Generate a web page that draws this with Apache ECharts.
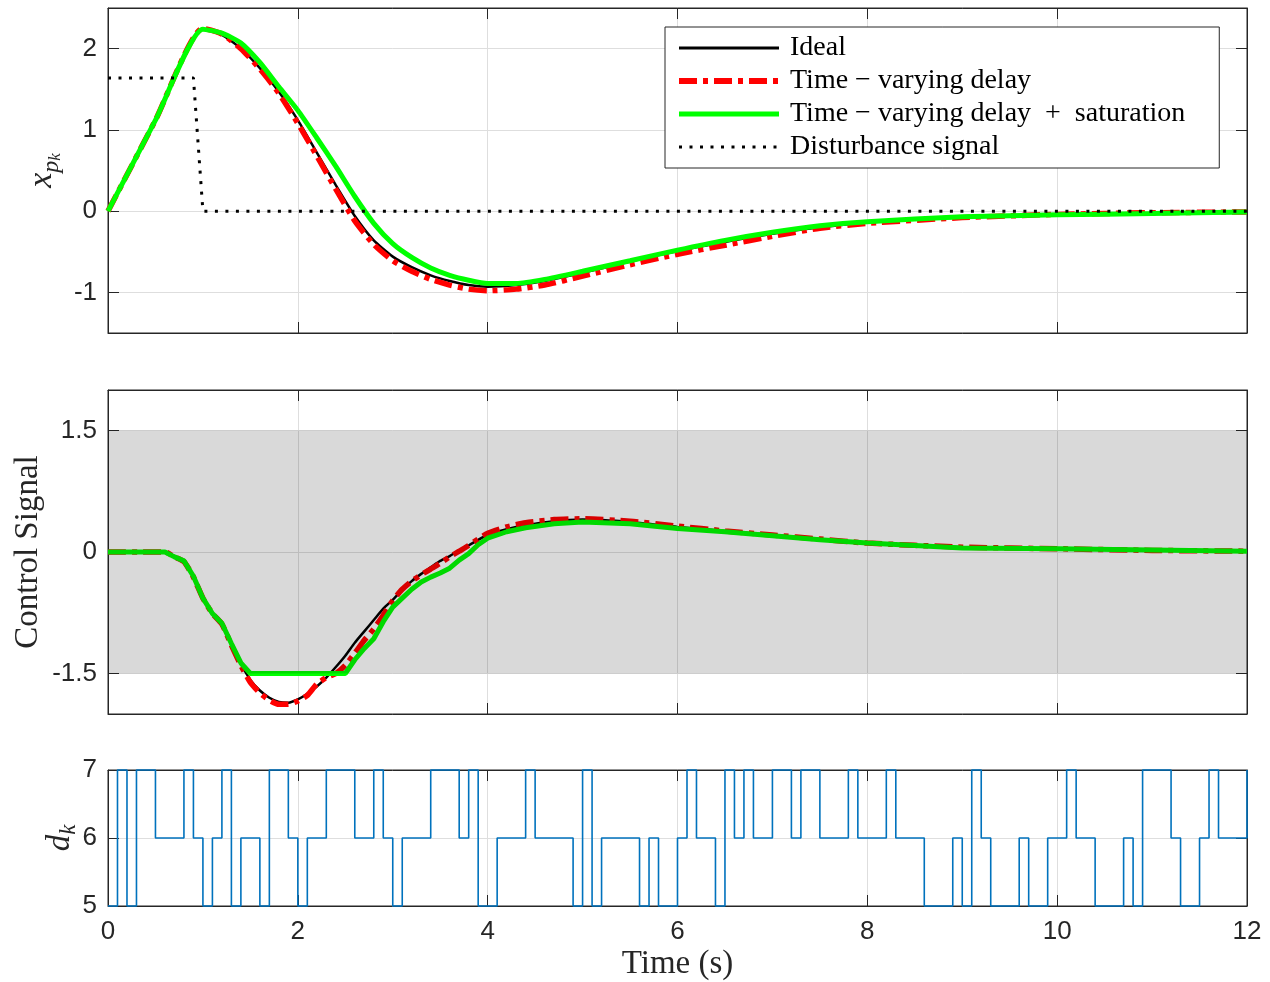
<!DOCTYPE html>
<html>
<head>
<meta charset="utf-8">
<script src="https://cdn.jsdelivr.net/npm/echarts@6/dist/echarts.min.js"></script>
<style>html,body{margin:0;padding:0;background:#fff}#chart{width:1270px;height:982px}</style>
</head>
<body>
<div id="chart"></div>
<script>
// ---------- data ----------
const legendNames = ['Ideal', 'Time \u2212 varying delay', 'Time \u2212 varying delay  +  saturation', 'Disturbance signal'];

// top panel: plant state x_pk
const tTop     = [0, 0.5, 1.0, 1.2, 1.4, 1.6, 1.8, 2.0, 2.2, 2.4, 2.6, 2.8, 3.0, 3.2, 3.4, 3.6, 3.8, 4.0, 4.3, 4.6, 5.0, 5.5, 6.0, 6.5, 7.0, 7.5, 8.0, 9.0, 10.0, 11.0, 12.0];
const idealTop = [0, 1.12, 2.24, 2.17, 2.00, 1.76, 1.47, 1.12, 0.72, 0.32, -0.06, -0.36, -0.56, -0.69, -0.79, -0.86, -0.91, -0.93, -0.91, -0.86, -0.76, -0.62, -0.49, -0.38, -0.28, -0.20, -0.14, -0.08, -0.05, -0.03, -0.02];
const delayTop = [0, 1.12, 2.25, 2.18, 2.00, 1.75, 1.45, 1.08, 0.68, 0.27, -0.12, -0.41, -0.61, -0.74, -0.84, -0.91, -0.96, -0.98, -0.96, -0.91, -0.80, -0.66, -0.53, -0.42, -0.31, -0.21, -0.15, -0.08, -0.04, -0.02, -0.01];
const satTop   = [0, 1.12, 2.24, 2.19, 2.07, 1.83, 1.53, 1.24, 0.90, 0.55, 0.18, -0.15, -0.40, -0.57, -0.70, -0.79, -0.85, -0.89, -0.89, -0.84, -0.74, -0.61, -0.48, -0.36, -0.26, -0.18, -0.13, -0.07, -0.045, -0.03, -0.01];
const distTime  = [0, 0.9, 1.0, 12];
const distValue = [1.64, 1.64, 0, 0];

// middle panel: control signal
const tMid     = [0, 0.5, 0.6, 0.7, 0.8, 0.9, 1.0, 1.1, 1.2, 1.3, 1.4, 1.5, 1.6, 1.7, 1.8, 1.9, 2.0, 2.1, 2.2, 2.3, 2.4, 2.5, 2.6, 2.7, 2.8, 2.9, 3.0, 3.1, 3.2, 3.3, 3.4, 3.5, 3.6, 3.7, 3.8, 3.9, 4.0, 4.2, 4.4, 4.7, 5.0, 5.5, 6.0, 6.5, 7.0, 7.5, 8.0, 9.0, 10.0, 11.0, 12.0];
const idealMid = [0, 0, 0, -0.05, -0.13, -0.31, -0.56, -0.75, -0.89, -1.14, -1.38, -1.58, -1.71, -1.80, -1.85, -1.86, -1.82, -1.75, -1.66, -1.55, -1.42, -1.28, -1.12, -0.98, -0.84, -0.70, -0.59, -0.47, -0.36, -0.27, -0.19, -0.11, -0.05, 0.02, 0.08, 0.15, 0.21, 0.28, 0.33, 0.38, 0.40, 0.37, 0.31, 0.26, 0.21, 0.16, 0.11, 0.06, 0.04, 0.02, 0.01];
const delayMid = [0, 0, 0, -0.06, -0.12, -0.31, -0.57, -0.76, -0.89, -1.15, -1.40, -1.61, -1.74, -1.83, -1.88, -1.88, -1.84, -1.77, -1.63, -1.55, -1.50, -1.40, -1.25, -1.09, -0.95, -0.78, -0.60, -0.46, -0.36, -0.28, -0.21, -0.14, -0.06, 0.01, 0.08, 0.16, 0.23, 0.31, 0.36, 0.40, 0.41, 0.38, 0.32, 0.26, 0.21, 0.16, 0.11, 0.06, 0.04, 0.02, 0.01];
const satMid   = [0, 0, 0, -0.06, -0.11, -0.30, -0.57, -0.76, -0.88, -1.13, -1.37, -1.50, -1.50, -1.50, -1.50, -1.50, -1.50, -1.50, -1.50, -1.50, -1.50, -1.50, -1.33, -1.19, -1.07, -0.86, -0.68, -0.57, -0.46, -0.37, -0.31, -0.26, -0.20, -0.10, -0.02, 0.09, 0.17, 0.25, 0.30, 0.35, 0.37, 0.35, 0.29, 0.25, 0.20, 0.15, 0.11, 0.05, 0.04, 0.025, 0.01];
const satLimits = [-1.5, 1.5];

// bottom panel: delay d_k (one sample every 0.1 s)
const sampleTime = 0.1;
const dSamples = [
  5,7,5,7,7,6,6,6,7,6,
  5,6,7,5,6,6,5,7,7,6,
  5,6,6,7,7,7,6,6,7,6,
  5,6,6,6,7,7,7,6,7,5,
  5,6,6,6,7,6,6,6,6,5,
  7,5,6,6,6,6,5,6,5,5,
  6,7,6,6,5,7,6,7,6,6,
  7,7,6,7,7,6,6,6,7,6,
  6,6,7,6,6,6,5,5,5,6,
  5,7,6,5,5,5,6,5,5,6,
  6,7,6,6,5,5,5,6,5,7,
  7,7,6,5,5,6,7,6,6,6,
  7
];

// axis ticks
const xTicks = [0, 2, 4, 6, 8, 10, 12];
const yTicksTop = [-1, 0, 1, 2];
const yTicksMid = [-1.5, 0, 1.5];
const yTicksBot = [5, 6, 7];

// ---------- chart ----------
const pairs = (xs, ys) => xs.map((x, i) => [x, ys[i]]);
const dTime = dSamples.map((_, k) => +(k * sampleTime).toFixed(1));

const AX = '#262626';
const GRIDC = '#dedede';
const tickFont = { fontFamily: 'Liberation Sans, Arial, sans-serif', fontSize: 26, color: AX };
const serif = 'Liberation Serif, Times New Roman, serif';

const grids = [
  { left: 108, top: 8, width: 1139, height: 325 },
  { left: 108, top: 390, width: 1139, height: 324 },
  { left: 108, top: 770, width: 1139, height: 136 }
].map(g => Object.assign({ show: true, borderColor: AX, borderWidth: 1, backgroundColor: 'transparent' }, g));

const yRanges = [[-1.5, 2.5], [-2, 2], [5, 7]];
const yTickSets = [yTicksTop, yTicksMid, yTicksBot];

const xAxes = [];
const yAxes = [];
for (let i = 0; i < 3; i++) {
  const base = {
    type: 'value', gridIndex: i, min: xTicks[0], max: xTicks[xTicks.length - 1], interval: xTicks[1] - xTicks[0],
    axisLine: { show: true, onZero: false, lineStyle: { color: AX, width: 1 } },
    axisTick: { show: true, inside: true, length: 11, lineStyle: { color: AX, width: 1 } }
  };
  xAxes.push(Object.assign({}, base, {
    position: 'bottom',
    axisLabel: Object.assign({ show: i === 2, margin: 13, showMinLabel: true, showMaxLabel: true }, tickFont),
    splitLine: { show: true, lineStyle: { color: GRIDC, width: 1 } },
    name: i === 2 ? 'Time (s)' : '',
    nameLocation: 'middle', nameGap: 42, nameMoveOverlap: false,
    nameTextStyle: { fontFamily: serif, fontSize: 33, lineHeight: 33, color: AX }
  }));
  xAxes.push(Object.assign({}, base, {
    position: 'top', axisLabel: { show: false }, splitLine: { show: false }
  }));
  const ybase = {
    type: 'value', gridIndex: i, min: yRanges[i][0], max: yRanges[i][1],
    axisLine: { show: true, onZero: false, lineStyle: { color: AX, width: 1 } },
    axisTick: { show: true, inside: true, length: 11, customValues: yTickSets[i], lineStyle: { color: AX, width: 1 } }
  };
  yAxes.push(Object.assign({}, ybase, {
    position: 'left',
    axisLabel: Object.assign({ margin: 11, customValues: yTickSets[i] }, tickFont),
    splitLine: { show: true, lineStyle: { color: GRIDC, width: 1 } }
  }));
  yAxes.push(Object.assign({}, ybase, {
    position: 'right', axisLabel: { show: false }, splitLine: { show: false }
  }));
}

// y axis names
Object.assign(yAxes[0], {
  name: '{x|x}{p|p}{k|k}', nameLocation: 'middle', nameGap: 44, nameMoveOverlap: false,
  nameTextStyle: { rich: {
    x: { fontFamily: serif, fontStyle: 'italic', fontSize: 34, color: AX, verticalAlign: 'middle', lineHeight: 44 },
    p: { fontFamily: serif, fontStyle: 'italic', fontSize: 24, color: AX, verticalAlign: 'bottom', lineHeight: 24 },
    k: { fontFamily: serif, fontStyle: 'italic', fontSize: 17, color: AX, verticalAlign: 'bottom', lineHeight: 17 }
  } }
});
Object.assign(yAxes[2], {
  name: 'Control Signal', nameLocation: 'middle', nameGap: 63, nameMoveOverlap: false,
  nameTextStyle: { fontFamily: serif, fontSize: 33, lineHeight: 33, color: AX }
});
Object.assign(yAxes[4], {
  name: '{d|d}{k|k}', nameLocation: 'middle', nameGap: 28, nameMoveOverlap: false,
  nameTextStyle: { rich: {
    d: { fontFamily: serif, fontStyle: 'italic', fontSize: 33, color: AX, verticalAlign: 'middle', lineHeight: 40 },
    k: { fontFamily: serif, fontStyle: 'italic', fontSize: 23, color: AX, verticalAlign: 'bottom', lineHeight: 23 }
  } }
});

const RED_DASH = [18, 6, 5, 6];
const DOT = [3, 7.5];
function lineSeries(name, xi, yi, data, color, width, type, z, smooth) {
  return {
    name, type: 'line', xAxisIndex: xi, yAxisIndex: yi, data,
    symbol: 'none', silent: true, z: z || 2,
    smooth: smooth || false,
    lineStyle: { color, width, type: type || 'solid', cap: 'butt' },
    itemStyle: { color },
    emphasis: { disabled: true }
  };
}

const series = [
  lineSeries(legendNames[0], 0, 0, pairs(tTop, idealTop), '#000000', 2.5, 'solid', 2, 0.2),
  lineSeries(legendNames[1], 0, 0, pairs(tTop, delayTop), '#ff0000', 5.5, RED_DASH, 3, 0.2),
  lineSeries(legendNames[2], 0, 0, pairs(tTop, satTop), '#00ff00', 5, 'solid', 4, 0.2),
  lineSeries(legendNames[3], 0, 0, pairs(distTime, distValue), '#000000', 3, DOT, 5),

  lineSeries(legendNames[0], 2, 2, pairs(tMid, idealMid), '#000000', 2.5, 'solid', 2, 0.2),
  lineSeries(legendNames[1], 2, 2, pairs(tMid, delayMid), '#ff0000', 5.5, RED_DASH, 3, 0.2),
  lineSeries(legendNames[2], 2, 2, pairs(tMid, satMid), '#00ff00', 5, 'solid', 4),
  {
    name: 'saturation band', type: 'line', xAxisIndex: 2, yAxisIndex: 2, data: [], silent: true, z: 6,
    markArea: {
      silent: true, z: 10,
      itemStyle: { color: 'rgba(0,0,0,0.15)', borderWidth: 0 },
      data: [[{ xAxis: xTicks[0], yAxis: satLimits[0] }, { xAxis: xTicks[xTicks.length - 1], yAxis: satLimits[1] }]]
    }
  },

  Object.assign(lineSeries('d_k', 4, 4, pairs(dTime, dSamples), '#0072bd', 1.6, 'solid', 2), { step: 'end', clip: false })
];

const legendLineWidths = [3, 6, 5, 3];
const chart = echarts.init(document.getElementById('chart'), null, { renderer: 'canvas' });
chart.setOption({
  animation: false,
  backgroundColor: '#ffffff',
  grid: grids,
  xAxis: xAxes,
  yAxis: yAxes,
  legend: {
    orient: 'vertical', left: 665, top: 27,
    backgroundColor: '#ffffff', borderColor: AX, borderWidth: 1,
    padding: [7, 34, 7, 11],
    itemGap: 5, itemWidth: 100, itemHeight: 14,
    selectedMode: false,
    itemStyle: { opacity: 0 },
    textStyle: { fontFamily: serif, fontSize: 28, lineHeight: 28, color: '#000', padding: [0, 0, 0, 6] },
    data: legendNames.map((n, i) => ({ name: n, lineStyle: { width: legendLineWidths[i] } }))
  },
  series
});
</script>
</body>
</html>
